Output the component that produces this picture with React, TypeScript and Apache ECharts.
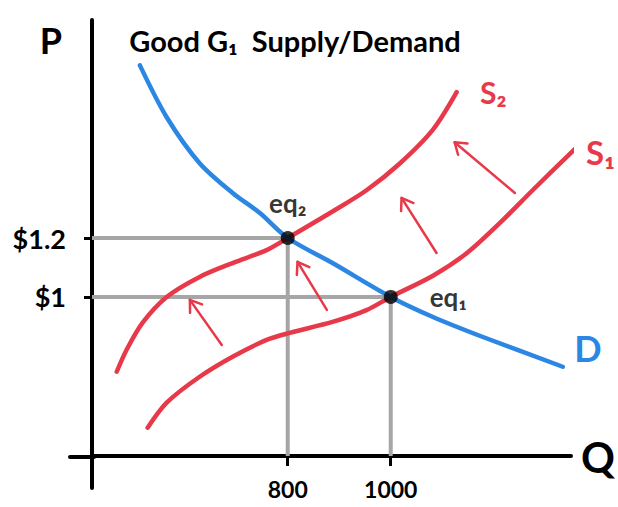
import React, { useEffect, useRef } from "react";
import * as echarts from "echarts";

// ---- data ----
const demandQ = [513, 565, 629, 693, 746, 800, 887, 1000, 1082, 1179, 1334];
const demandP = [1.786, 1.61, 1.454, 1.353, 1.285, 1.2, 1.115, 1.0, 0.932, 0.864, 0.763];
const supply2Q = [468, 487, 518, 565, 629, 693, 759, 800, 887, 953, 1017, 1082, 1128];
const supply2P = [0.746, 0.82, 0.912, 1.0, 1.068, 1.115, 1.159, 1.2, 1.29, 1.362, 1.452, 1.568, 1.695];
const supply1Q = [528, 565, 629, 693, 759, 804, 887, 953, 1000, 1082, 1148, 1212, 1276, 1361];
const supply1P = [0.556, 0.641, 0.729, 0.797, 0.854, 0.878, 0.915, 0.955, 1.0, 1.072, 1.149, 1.251, 1.363, 1.508];
const eqQ = [1000, 800];
const eqP = [1, 1.2];
const eqLabels = ["eq₁", "eq₂"];
const arrowFromQ = [672, 876, 1089, 1241];
const arrowFromP = [0.837, 0.956, 1.149, 1.353];
const arrowToQ = [610, 819, 1021, 1124];
const arrowToP = [0.99, 1.119, 1.336, 1.525];
const qtyTicks = [800, 1000];
const qtyTickLabels = ["800", "1000"];
const priceTicks = [1, 1.2];
const priceTickLabels = ["$1", "$1.2"];
const Q_MIN = 420;
const Q_MAX = 1350;
const P_MIN = 0.46;
const P_MAX = 1.94;

const RED = "#e8394a";
const BLUE = "#2b87e3";
const GRAY = "#a6a6a6";
const FONT = "Lato";

const zip = (a: number[], b: number[]) => a.map((v, i) => [v, b[i]]);

export default function App() {
  const ref = useRef<HTMLDivElement>(null);
  useEffect(() => {
    if (!ref.current) return;
    const chart = echarts.init(ref.current, null, { renderer: "svg" });
    const guideSeries = eqQ.map((q, i) => ({
      type: "line",
      data: [
        [Q_MIN, eqP[i]],
        [q, eqP[i]],
        [q, P_MIN],
      ],
      showSymbol: false,
      silent: true,
      lineStyle: { color: GRAY, width: 4 },
      z: 1,
    }));
    const curve = (name: string, q: number[], p: number[], color: string, z: number) => ({
      type: "line",
      name,
      data: zip(q, p),
      smooth: 0.3,
      showSymbol: false,
      clip: false,
      lineStyle: { color, width: 4.5, cap: "round", join: "round" },
      z,
    });
    const option: any = {
      animation: false,
      backgroundColor: "#ffffff",
      grid: { left: 92, right: 47, top: 20, bottom: 51 },
      xAxis: {
        type: "value",
        min: Q_MIN,
        max: Q_MAX,
        splitLine: { show: false },
        axisLine: { show: true, lineStyle: { color: "#000", width: 4 } },
        axisTick: {
          show: true,
          customValues: qtyTicks,
          length: 10,
          lineStyle: { color: "#000", width: 3 },
        },
        axisLabel: {
          show: true,
          customValues: qtyTicks,
          formatter: (v: number) => qtyTickLabels[qtyTicks.indexOf(v)] ?? "",
          margin: 21,
          fontFamily: FONT,
          fontWeight: "bold",
          fontSize: 23,
          color: "#000",
        },
      },
      yAxis: {
        type: "value",
        min: P_MIN,
        max: P_MAX,
        splitLine: { show: false },
        axisLine: { show: true, lineStyle: { color: "#000", width: 4 } },
        axisTick: {
          show: true,
          customValues: priceTicks,
          length: 8,
          lineStyle: { color: "#000", width: 3 },
        },
        axisLabel: {
          show: true,
          customValues: priceTicks,
          formatter: (v: number) => priceTickLabels[priceTicks.indexOf(v)] ?? "",
          margin: 26,
          fontFamily: FONT,
          fontWeight: "bold",
          fontSize: 27,
          color: "#000",
        },
      },
      graphic: [
        { type: "line", shape: { x1: 70, y1: 457, x2: 94, y2: 457 }, style: { stroke: "#000", lineWidth: 4, lineCap: "round" } },
        { type: "line", shape: { x1: 92, y1: 455, x2: 92, y2: 488 }, style: { stroke: "#000", lineWidth: 4, lineCap: "round" } },
        {
          type: "text",
          x: 295,
          y: 40,
          style: { text: "Good G₁  Supply/Demand", fontFamily: FONT, fontWeight: "bold", fontSize: 29, fill: "#000", align: "center", verticalAlign: "middle" },
        },
        {
          type: "text",
          x: 51,
          y: 40,
          style: { text: "P", fontFamily: FONT, fontWeight: "bold", fontSize: 36, fill: "#000", align: "center", verticalAlign: "middle" },
        },
        {
          type: "text",
          x: 598,
          y: 457,
          style: { text: "Q", fontFamily: FONT, fontWeight: "bold", fontSize: 42, fill: "#000", align: "center", verticalAlign: "middle" },
        },
        {
          type: "text",
          x: 588,
          y: 348,
          style: { text: "D", fontFamily: FONT, fontWeight: "bold", fontSize: 36, fill: BLUE, align: "center", verticalAlign: "middle" },
        },
        {
          type: "text",
          x: 480,
          y: 92,
          style: { text: "S₂", fontFamily: FONT, fontWeight: "bold", fontSize: 30, fill: RED, align: "left", verticalAlign: "middle" },
        },
        {
          type: "text",
          x: 586,
          y: 152,
          style: { text: "S₁", fontFamily: FONT, fontWeight: "bold", fontSize: 33, fill: RED, align: "left", verticalAlign: "middle" },
        },
      ],
      series: [
        ...guideSeries,
        curve("S2", supply2Q, supply2P, RED, 3),
        curve("S1", supply1Q, supply1P, RED, 3),
        curve("D", demandQ, demandP, BLUE, 4),
        {
          type: "custom",
          name: "shift",
          data: arrowFromQ.map((q, i) => [q, arrowFromP[i], arrowToQ[i], arrowToP[i]]),
          encode: { x: [0, 2], y: [1, 3] },
          clip: false,
          z: 3,
          renderItem: (_params: any, api: any) => {
            const a = api.coord([api.value(0), api.value(1)]);
            const b = api.coord([api.value(2), api.value(3)]);
            const ang = Math.atan2(b[1] - a[1], b[0] - a[0]);
            const L = 13;
            const spread = 0.6;
            const h1 = [b[0] - L * Math.cos(ang - spread), b[1] - L * Math.sin(ang - spread)];
            const h2 = [b[0] - L * Math.cos(ang + spread), b[1] - L * Math.sin(ang + spread)];
            const st = { stroke: RED, fill: "none", lineWidth: 2.5, lineCap: "round", lineJoin: "round" };
            return {
              type: "group",
              children: [
                { type: "line", shape: { x1: a[0], y1: a[1], x2: b[0], y2: b[1] }, style: st },
                { type: "polyline", shape: { points: [h1, [b[0], b[1]], h2] }, style: st },
              ],
            };
          },
        },
        {
          type: "scatter",
          name: "eq",
          data: eqQ.map((q, i) => ({
            value: [q, eqP[i]],
            name: eqLabels[i],
            label: i === 0 ? { position: "right", distance: 32 } : { position: "top", distance: 15 },
          })),
          symbolSize: 14,
          itemStyle: { color: "#000" },
          label: {
            show: true,
            formatter: (p: any) => p.name,
            fontFamily: FONT,
            fontWeight: "bold",
            fontSize: 26,
            color: "#000",
          },
          z: 6,
        },
      ],
    };
    chart.setOption(option);
    return () => chart.dispose();
  }, []);
  return (
    <div
      ref={ref}
      style={{ position: "fixed", left: 0, top: 0, width: 618, height: 507, background: "#fff" }}
    />
  );
}
